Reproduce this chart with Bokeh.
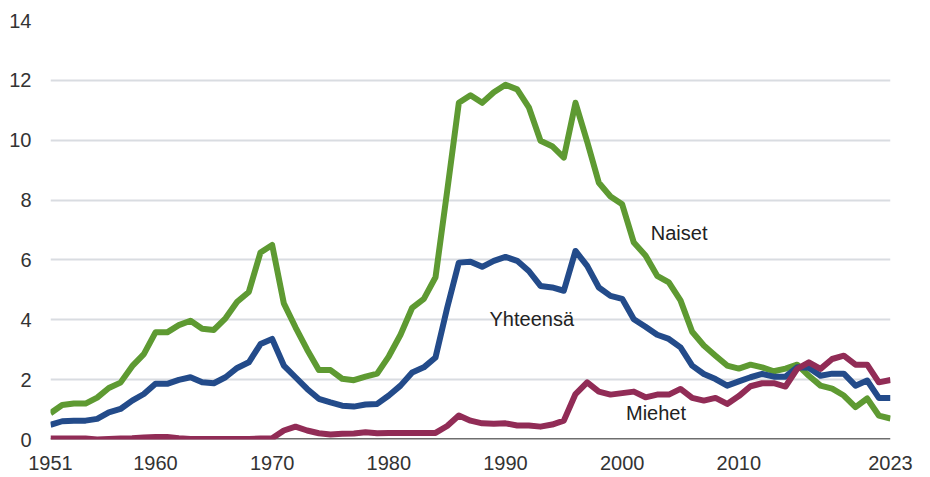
from bokeh.plotting import figure
from bokeh.models import Range1d, FixedTicker, Span, Label, ColumnDataSource
from bokeh.embed import file_html
from bokeh.resources import INLINE

years = list(range(1951, 2024))

naiset = [0.88, 1.15, 1.2, 1.2, 1.4, 1.72, 1.9, 2.45, 2.85, 3.58,
          3.58, 3.82, 3.97, 3.7, 3.66, 4.05, 4.6, 4.93, 6.25, 6.5,
          4.55, 3.75, 3.0, 2.32, 2.32, 2.03, 1.98, 2.1, 2.2, 2.78,
          3.5, 4.4, 4.7, 5.42, 8.3, 11.25, 11.5, 11.25, 11.6, 11.85,
          11.7, 11.1, 9.98, 9.8, 9.42, 11.25, 9.95, 8.58, 8.12, 7.86,
          6.58, 6.15, 5.47, 5.25, 4.65, 3.6, 3.14, 2.8, 2.47, 2.37,
          2.5, 2.41, 2.28, 2.37, 2.5, 2.13, 1.8, 1.7, 1.47, 1.08,
          1.37, 0.8, 0.7]

yhteensa = [0.49, 0.61, 0.63, 0.63, 0.69, 0.91, 1.02, 1.3, 1.52, 1.86,
            1.86, 1.99, 2.08, 1.91, 1.88, 2.08, 2.39, 2.58, 3.19, 3.36,
            2.47, 2.08, 1.69, 1.36, 1.24, 1.13, 1.1, 1.17, 1.19, 1.47,
            1.8, 2.24, 2.41, 2.74, 4.4, 5.91, 5.94, 5.77, 5.97, 6.1,
            5.97, 5.63, 5.13, 5.08, 4.97, 6.3, 5.8, 5.08, 4.8, 4.7,
            4.02, 3.77, 3.5, 3.36, 3.08, 2.47, 2.19, 2.02, 1.8, 1.94,
            2.08, 2.19, 2.1, 2.1, 2.41, 2.4, 2.13, 2.2, 2.2, 1.8,
            1.97, 1.39, 1.39]

miehet = [0.03, 0.03, 0.03, 0.03, 0.0, 0.02, 0.03, 0.04, 0.07, 0.08,
          0.08, 0.04, 0.02, 0.02, 0.02, 0.02, 0.02, 0.02, 0.03, 0.04,
          0.3, 0.43, 0.3, 0.21, 0.17, 0.19, 0.2, 0.24, 0.21, 0.22,
          0.22, 0.22, 0.22, 0.22, 0.45, 0.8, 0.63, 0.54, 0.53, 0.54,
          0.47, 0.47, 0.43, 0.5, 0.63, 1.52, 1.91, 1.6, 1.5, 1.55,
          1.6, 1.41, 1.5, 1.5, 1.69, 1.39, 1.3, 1.39, 1.19, 1.45,
          1.78, 1.88, 1.88, 1.77, 2.36, 2.58, 2.36, 2.69, 2.8, 2.5,
          2.5, 1.91, 1.99]

x_ticks = [1951, 1960, 1970, 1980, 1990, 2000, 2010, 2023]
y_ticks = [0, 2, 4, 6, 8, 10, 12, 14]

series_names = ["Naiset", "Yhteensä", "Miehet"]

FONT = "Liberation Sans"
GREEN = "#5E9A32"
BLUE = "#234B8A"
RED = "#912C56"

source = ColumnDataSource(dict(year=years, naiset=naiset, yhteensa=yhteensa, miehet=miehet))

p = figure(width=930, height=477, output_backend="svg", toolbar_location=None,
           x_range=Range1d(1951, 2023), y_range=Range1d(0, 14),
           min_border_left=50, min_border_right=40, min_border_top=20, min_border_bottom=38)
p.outline_line_color = None
p.background_fill_color = "white"
p.border_fill_color = "white"

# grid
p.xgrid.visible = False
p.ygrid.ticker = FixedTicker(ticks=y_ticks)
p.ygrid.grid_line_color = "#D9DCE1"
p.ygrid.grid_line_width = 2

# axes
p.xaxis.ticker = FixedTicker(ticks=x_ticks)
p.yaxis.ticker = FixedTicker(ticks=y_ticks)
for ax in (p.xaxis[0], p.yaxis[0]):
    ax.axis_line_color = None
    ax.major_tick_line_color = None
    ax.minor_tick_line_color = None
    ax.major_tick_out = 0
    ax.major_tick_in = 0
    ax.minor_tick_out = 0
    ax.major_label_text_font = FONT
    ax.major_label_text_font_size = "20px"
    ax.major_label_text_color = "#333333"
p.yaxis.major_label_standoff = 19
p.xaxis.major_label_standoff = 16

baseline = Span(location=0, dimension="width", line_color="#6E6E6E", line_width=3, level="underlay")
p.add_layout(baseline)

p.line("year", "naiset", source=source, line_color=GREEN, line_width=6, line_join="round")
p.line("year", "yhteensa", source=source, line_color=BLUE, line_width=6, line_join="round")
p.line("year", "miehet", source=source, line_color=RED, line_width=6, line_join="round")

label_pos = [(2002.45, 6.9), (1988.63, 4.03), (2000.33, 0.9)]
for name, (lx, ly) in zip(series_names, label_pos):
    p.add_layout(Label(x=lx, y=ly, text=name, text_font=FONT, text_font_size="20px",
                       text_color="#222222", text_baseline="middle", text_align="left"))

open("out.html", "w").write(file_html(p, INLINE))
